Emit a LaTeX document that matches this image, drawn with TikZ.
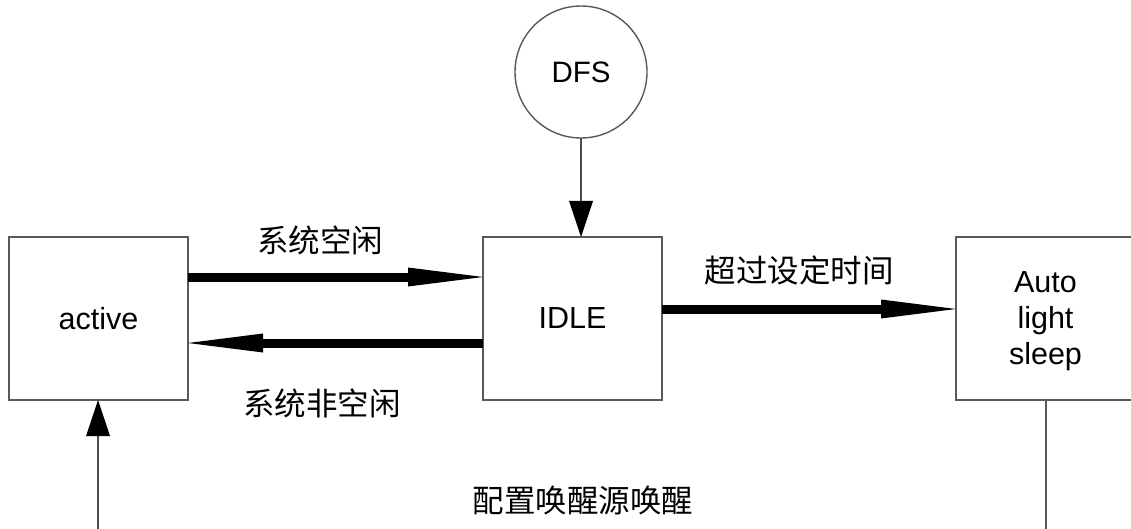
\documentclass[tikz,border=0pt]{standalone}
\usepackage{fontspec}
\setmainfont{Liberation Sans}
\newfontfamily\cjk{Noto Sans CJK SC}
\usetikzlibrary{arrows.meta}
\tikzset{
  state/.style={draw=black!65, line width=1.4pt, minimum width=179pt, minimum height=163pt, inner sep=0pt, outer sep=0pt, align=center,
    font=\fontsize{30.5}{36}\selectfont},
  circ/.style={circle, draw=black!65, line width=1.4pt, minimum size=132pt, inner sep=0pt, outer sep=0pt,
    font=\fontsize{29.5}{36}\selectfont},
  thick arrow/.style={line width=9pt, -{Triangle[length=75pt,width=19pt,line width=0pt]}},
  thin arrow/.style={line width=1.4pt, draw=black!70, -{Triangle[length=36pt,width=24pt,line width=0pt,fill=black]}},
  lbl/.style={font=\cjk\fontsize{31.5}{34}\selectfont, inner sep=0pt},
}
\begin{document}
\begin{tikzpicture}[x=1pt,y=-1pt]
\useasboundingbox (0,0) rectangle (1131,529);
\clip (0,0) rectangle (1131,529);
\node[state] (active) at (98.5,318.5) {active};
\node[state] (idle) at (572.5,318.5) {IDLE};
\node[state, text depth=-8pt] (auto) at (1045.5,318.5) {Auto\\light\\sleep};
\node[circ] (dfs) at (581,72) {DFS};
\coordinate (ya) at (0,277);
\coordinate (yb) at (0,343);
\coordinate (yc) at (0,309);
\coordinate (bl) at (98,529);
\coordinate (br) at (1046,529);
\draw[thick arrow] (active.east |- ya) -- (idle.west |- ya);
\draw[thick arrow] (idle.west |- yb) -- (active.east |- yb);
\draw[thick arrow] (idle.east |- yc) -- (auto.west |- yc);
\draw[thin arrow] (dfs.south) -- (dfs.south |- idle.north);
\draw[thin arrow] (bl) -- (bl |- active.south);
\draw[line width=1.4pt, draw=black!65] (br |- auto.south) -- (br);
\node[lbl] (l1) at (320,240) {系统空闲};
\node[lbl] (l2) at (322,403) {系统非空闲};
\node[lbl] (l3) at (799,270) {超过设定时间};
\node[lbl] (l4) at (583,500) {配置唤醒源唤醒};
\end{tikzpicture}
\end{document}
